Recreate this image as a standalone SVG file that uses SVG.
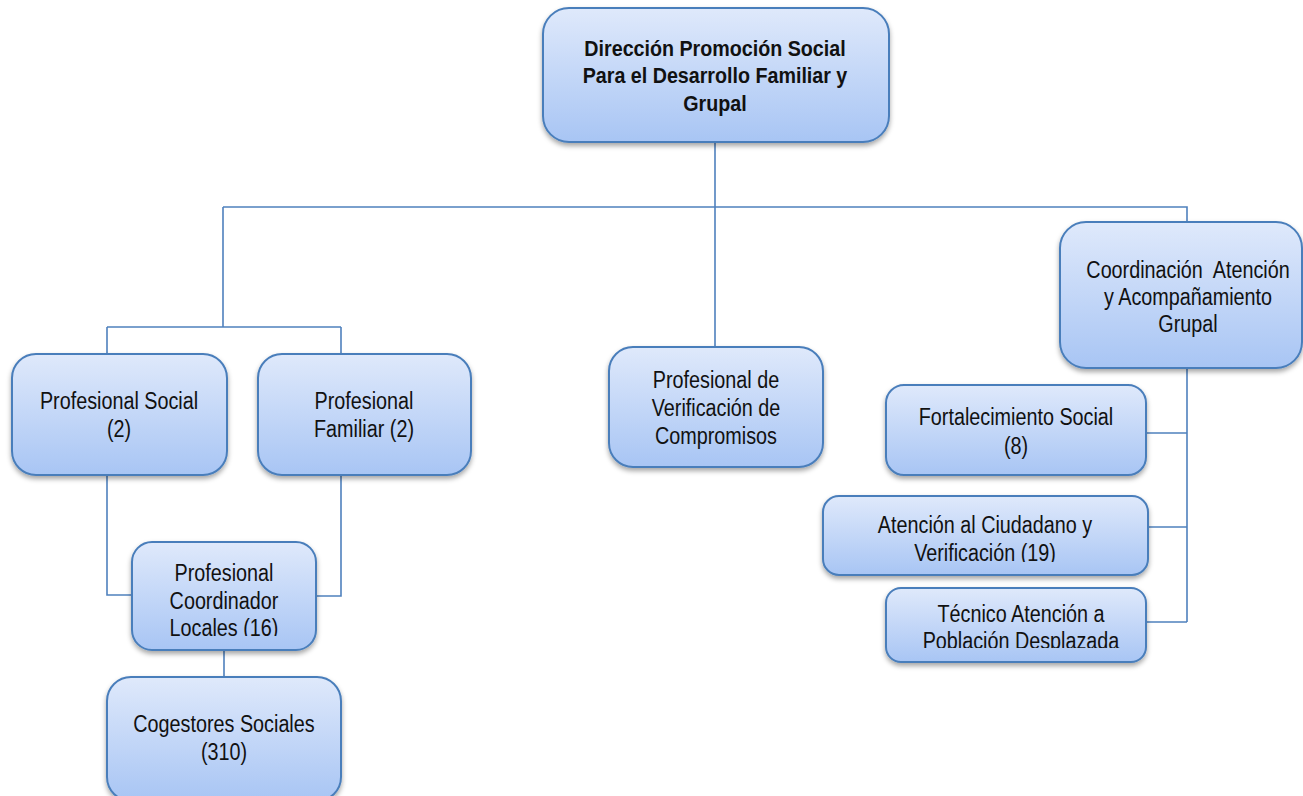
<svg xmlns="http://www.w3.org/2000/svg" width="1303" height="796" viewBox="0 0 1303 796">
  <defs>
    <linearGradient id="boxFill" x1="0" y1="0" x2="0" y2="1">
      <stop offset="0" stop-color="#dfe9fb"/>
      <stop offset="1" stop-color="#a8c5f4"/>
    </linearGradient>
    <filter id="shadow" x="-10%" y="-10%" width="120%" height="130%">
      <feDropShadow dx="0" dy="3" stdDeviation="2.5" flood-color="#000" flood-opacity="0.35"/>
    </filter>
    <clipPath id="clipCoord"><rect x="132" y="542" width="184" height="94"/></clipPath>
    <clipPath id="clipAtencion"><rect x="823" y="496" width="325" height="66"/></clipPath>
    <clipPath id="clipTecnico"><rect x="886" y="588" width="260" height="60"/></clipPath>
  </defs>
  <style>
    .box { fill: url(#boxFill); stroke: #4a7ebb; stroke-width: 2; filter: url(#shadow); }
    .lbl { font-family: "Liberation Sans", Arial, sans-serif; font-size: 23px; fill: #111; text-anchor: middle; }
    .bold { font-weight: bold; font-size: 22.5px; }
    .conn { fill: none; stroke: #4f81bd; stroke-width: 1.6; }
  </style>

  <!-- connectors -->
  <g id="connectors">
    <path class="conn" d="M715 142 V207 M223 207 H1187 V222 M715 207 V347 M223 207 V327 M107 327 H341 M107 327 V354 M341 327 V354"/>
    <path class="conn" d="M107 475 V595 H132 M341 475 V596 H316 M224 650 V677"/>
    <path class="conn" d="M1187 368 V622 M1146 433 H1187 M1148 527 H1187 M1118 622 H1187"/>
  </g>

  <!-- all labels are set condensed (scaleX) around each box's centre -->
  <g id="direccion">
    <rect class="box" x="543" y="8" width="346" height="134" rx="26"/>
    <g transform="translate(715 0) scale(0.875 1)">
      <text class="lbl bold" x="0" y="56">Dirección Promoción Social</text>
      <text class="lbl bold" x="0" y="83.5">Para el Desarrollo Familiar y</text>
      <text class="lbl bold" x="0" y="111">Grupal</text>
    </g>
  </g>

  <g id="coordinacion-grupal">
    <rect class="box" x="1060" y="222" width="242" height="146" rx="26"/>
    <g transform="translate(1188 0) scale(0.86 1)">
      <text class="lbl" x="0" y="278" xml:space="preserve">Coordinación  Atención</text>
      <text class="lbl" x="0" y="305">y Acompañamiento</text>
      <text class="lbl" x="0" y="332">Grupal</text>
    </g>
  </g>

  <g id="profesional-social">
    <rect class="box" x="12" y="354" width="215" height="121" rx="24"/>
    <g transform="translate(119 0) scale(0.86 1)">
      <text class="lbl" x="0" y="409">Profesional Social</text>
      <text class="lbl" x="0" y="437">(2)</text>
    </g>
  </g>

  <g id="profesional-familiar">
    <rect class="box" x="258" y="354" width="213" height="121" rx="24"/>
    <g transform="translate(364 0) scale(0.86 1)">
      <text class="lbl" x="0" y="409">Profesional</text>
      <text class="lbl" x="0" y="437">Familiar (2)</text>
    </g>
  </g>

  <g id="profesional-verificacion">
    <rect class="box" x="609" y="347" width="214" height="120" rx="24"/>
    <g transform="translate(716 0) scale(0.86 1)">
      <text class="lbl" x="0" y="388">Profesional de</text>
      <text class="lbl" x="0" y="416">Verificación de</text>
      <text class="lbl" x="0" y="444">Compromisos</text>
    </g>
  </g>

  <g id="fortalecimiento">
    <rect class="box" x="886" y="385" width="260" height="90" rx="18"/>
    <g transform="translate(1016 0) scale(0.86 1)">
      <text class="lbl" x="0" y="425">Fortalecimiento Social</text>
      <text class="lbl" x="0" y="454">(8)</text>
    </g>
  </g>

  <g id="atencion-ciudadano">
    <rect class="box" x="823" y="496" width="325" height="79" rx="16"/>
    <g clip-path="url(#clipAtencion)">
      <g transform="translate(985 0) scale(0.86 1)">
        <text class="lbl" x="0" y="533">Atención al Ciudadano y</text>
        <text class="lbl" x="0" y="561">Verificación (19)</text>
      </g>
    </g>
  </g>

  <g id="tecnico-desplazada">
    <rect class="box" x="886" y="588" width="260" height="74" rx="15"/>
    <g clip-path="url(#clipTecnico)">
      <g transform="translate(1021 0) scale(0.86 1)">
        <text class="lbl" x="0" y="622">Técnico Atención a</text>
        <text class="lbl" x="0" y="649">Población Desplazada</text>
      </g>
    </g>
  </g>

  <g id="profesional-coordinador">
    <rect class="box" x="132" y="542" width="184" height="108" rx="20"/>
    <g clip-path="url(#clipCoord)">
      <g transform="translate(224 0) scale(0.86 1)">
        <text class="lbl" x="0" y="581">Profesional</text>
        <text class="lbl" x="0" y="609">Coordinador</text>
        <text class="lbl" x="0" y="636">Locales (16)</text>
      </g>
    </g>
  </g>

  <g id="cogestores">
    <rect class="box" x="107" y="677" width="234" height="124" rx="24"/>
    <g transform="translate(224 0) scale(0.86 1)">
      <text class="lbl" x="0" y="732">Cogestores Sociales</text>
      <text class="lbl" x="0" y="760">(310)</text>
    </g>
  </g>
</svg>
